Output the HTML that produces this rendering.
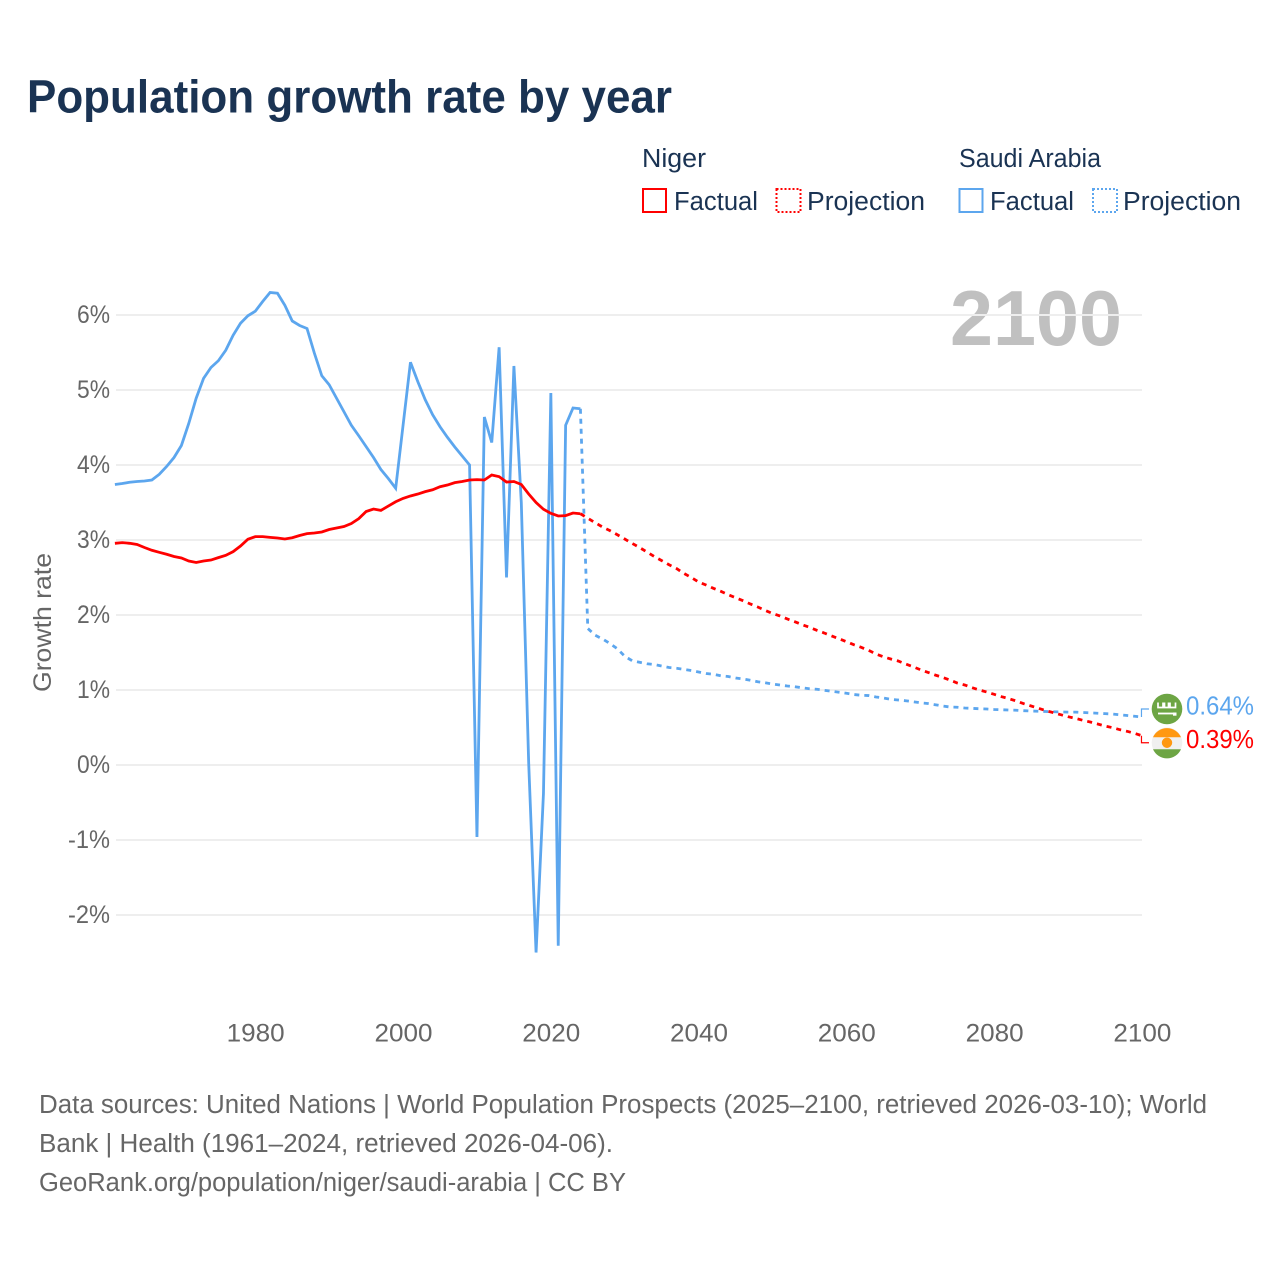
<!DOCTYPE html>
<html lang="en">
<head>
<meta charset="utf-8">
<title>Population growth rate by year</title>
<style>
html,body{margin:0;padding:0;background:#fff;}
svg{display:block;font-family:"Liberation Sans",sans-serif;}
</style>
</head>
<body>
<svg id="chart" xmlns="http://www.w3.org/2000/svg" width="1280" height="1280" viewBox="0 0 1280 1280">
  <rect width="1280" height="1280" fill="#ffffff"/>
  <text x="27" y="112.5" font-size="46" font-weight="bold" fill="#1a3353" textLength="645" lengthAdjust="spacingAndGlyphs">Population growth rate by year</text>

  <g font-size="25.5" fill="#1a3353">
    <text x="642" y="167" textLength="64" lengthAdjust="spacingAndGlyphs">Niger</text>
    <text x="959" y="167" textLength="142" lengthAdjust="spacingAndGlyphs">Saudi Arabia</text>
    <rect x="643" y="189" width="23" height="23" fill="none" stroke="#ff0000" stroke-width="2"/>
    <text x="674" y="210" textLength="84" lengthAdjust="spacingAndGlyphs">Factual</text>
    <rect x="776.5" y="189" width="24" height="23" fill="none" stroke="#ff0000" stroke-width="2" stroke-dasharray="2 2"/>
    <text x="807" y="210" textLength="118" lengthAdjust="spacingAndGlyphs">Projection</text>
    <rect x="959.5" y="189" width="23" height="23" fill="none" stroke="#5ca6ee" stroke-width="2"/>
    <text x="990" y="210" textLength="84" lengthAdjust="spacingAndGlyphs">Factual</text>
    <rect x="1093" y="189" width="24" height="23" fill="none" stroke="#5ca6ee" stroke-width="2" stroke-dasharray="2 2"/>
    <text x="1123" y="210" textLength="118" lengthAdjust="spacingAndGlyphs">Projection</text>
  </g>

  <text x="950" y="345" font-size="78" font-weight="bold" fill="#c0c0c0" textLength="172" lengthAdjust="spacingAndGlyphs">2100</text>

  <g id="grid"></g>
  <g id="ylabels" font-size="25" fill="#666666"></g>
  <g id="xlabels" font-size="25" fill="#666666"></g>
  <text transform="translate(51 692) rotate(-90)" font-size="25" fill="#666666" textLength="139" lengthAdjust="spacingAndGlyphs">Growth rate</text>
  <g id="series"></g>
  <g id="endmarks"></g>

  <g font-size="25.5" fill="#666666">
    <text x="39" y="1113" textLength="1168" lengthAdjust="spacingAndGlyphs">Data sources: United Nations | World Population Prospects (2025–2100, retrieved 2026-03-10); World</text>
    <text x="39" y="1152" textLength="574" lengthAdjust="spacingAndGlyphs">Bank | Health (1961–2024, retrieved 2026-04-06).</text>
    <text x="39" y="1191" textLength="587" lengthAdjust="spacingAndGlyphs">GeoRank.org/population/niger/saudi-arabia | CC BY</text>
  </g>
</svg>
<script>
const firstYear = 1961;
const lastFactualYear = 2024;
const yTickValues = [-2, -1, 0, 1, 2, 3, 4, 5, 6];
const xTickValues = [1980, 2000, 2020, 2040, 2060, 2080, 2100];

const saudiFactual = [3.74,3.753,3.77,3.78,3.787,3.80,3.875,3.98,4.10,4.26,4.555,4.89,5.155,5.30,5.39,5.53,5.73,5.89,5.99,6.05,
6.18,6.30,6.29,6.13,5.92,5.86,5.82,5.49,5.19,5.07,4.89,4.71,4.53,4.39,4.245,4.10,3.94,3.82,3.69,4.53,
5.37,5.11,4.87,4.67,4.51,4.37,4.24,4.12,4.00,-0.96,4.64,4.30,5.57,2.50,5.32,3.5,0.03,-2.50,-0.38,4.96,
-2.41,4.53,4.76,4.75];

const nigerFactual = [2.956,2.965,2.956,2.94,2.90,2.863,2.836,2.81,2.78,2.76,2.72,2.70,2.72,2.733,2.765,2.795,2.845,2.92,3.01,3.045,
3.045,3.035,3.027,3.013,3.03,3.06,3.085,3.093,3.107,3.14,3.16,3.18,3.22,3.285,3.38,3.413,3.395,3.453,3.51,3.555,
3.587,3.613,3.645,3.67,3.71,3.733,3.765,3.78,3.80,3.805,3.80,3.867,3.845,3.773,3.78,3.74,3.613,3.50,3.41,3.355,
3.32,3.325,3.36,3.35];

const saudiProjection = [1.82,1.73,1.68,1.62,1.55,1.45,1.39,1.37,1.35,1.34,1.32,1.30,1.29,1.275,1.26,1.24,1.22,1.21,1.19,1.18,
1.16,1.147,1.13,1.11,1.097,1.08,1.067,1.053,1.044,1.03,1.017,1.01,0.996,0.983,0.97,0.956,0.94,0.93,0.926,0.907,
0.893,0.875,0.867,0.857,0.844,0.83,0.82,0.804,0.787,0.773,0.77,0.76,0.755,0.75,0.747,0.74,0.737,0.733,0.73,0.724,
0.72,0.717,0.713,0.71,0.708,0.705,0.705,0.70,0.695,0.69,0.685,0.68,0.67,0.66,0.65,0.64];

const nigerProjection = [3.29,3.23,3.173,3.125,3.07,3.013,2.955,2.90,2.84,2.78,2.725,2.67,2.62,2.555,2.50,2.44,2.40,2.356,2.316,2.271,
2.231,2.191,2.147,2.107,2.062,2.02,1.987,1.947,1.911,1.871,1.836,1.796,1.76,1.72,1.684,1.644,1.604,1.569,1.529,1.48,
1.444,1.413,1.387,1.347,1.311,1.271,1.236,1.2,1.169,1.133,1.093,1.067,1.031,1.0,0.973,0.942,0.911,0.884,0.853,0.818,
0.787,0.756,0.724,0.698,0.671,0.644,0.622,0.596,0.573,0.547,0.52,0.498,0.471,0.449,0.422,0.39];

const NS = 'http://www.w3.org/2000/svg';
const xScale = function (year) { return 114.9 + (year - firstYear) * 7.389; };
const yScale = function (value) { return 765 - value * 75; };

function make(tag, attrs, parent) {
  const el = document.createElementNS(NS, tag);
  for (const k in attrs) el.setAttribute(k, attrs[k]);
  parent.appendChild(el);
  return el;
}

function linePath(values, startYear) {
  return values.map(function (v, i) {
    return (i ? 'L' : 'M') + xScale(startYear + i).toFixed(2) + ' ' + yScale(v).toFixed(2);
  }).join(' ');
}

const gridG = document.getElementById('grid');
const yG = document.getElementById('ylabels');
const xG = document.getElementById('xlabels');
const seriesG = document.getElementById('series');
const endG = document.getElementById('endmarks');

yTickValues.forEach(function (t) {
  const line = make('line', {x1: 116, x2: 1142, y1: yScale(t), y2: yScale(t), stroke: '#eeeeee', 'stroke-width': 2}, gridG);
  
  
  const label = make('text', {x: 110, y: yScale(t) + 8, 'text-anchor': 'end', textLength: t < 0 ? 42 : 33, lengthAdjust: 'spacingAndGlyphs'}, yG);
  
  
  label.textContent = t + '%';
});

xTickValues.forEach(function (t) {
  const label = make('text', {x: xScale(t) + 0.4, y: 1041.5, 'text-anchor': 'middle', textLength: 58, lengthAdjust: 'spacingAndGlyphs'}, xG);
  
  
  label.textContent = String(t);
});

function drawSeries(name, color, factual, projection, lineWidth) {
  const f = make('path', {d: linePath(factual, firstYear), fill: 'none', stroke: color, 'stroke-width': lineWidth}, seriesG);
  
  
  const joined = [factual[factual.length - 1]].concat(projection);
  const p = make('path', {d: linePath(joined, lastFactualYear), fill: 'none', stroke: color, 'stroke-width': lineWidth, 'stroke-dasharray': '5 5'}, seriesG);
  
  
}

drawSeries('saudi-arabia', '#5ca6ee', saudiFactual, saudiProjection, 2.8);
drawSeries('niger', '#ff0000', nigerFactual, nigerProjection, 2.8);

const endYear = lastFactualYear + saudiProjection.length;
const endX = xScale(endYear);
const saudiEnd = saudiProjection[saudiProjection.length - 1];
const nigerEnd = nigerProjection[nigerProjection.length - 1];
const saudiLabelY = yScale(saudiEnd) - 8;
const nigerLabelY = yScale(nigerEnd) + 7;

const saudiConn = make('path', {d: 'M' + (endX - 0.5) + ' ' + yScale(saudiEnd) + ' V' + saudiLabelY + ' H' + (endX + 7), fill: 'none', stroke: '#5ca6ee', 'stroke-width': 1.2}, endG);


const nigerConn = make('path', {d: 'M' + (endX - 0.5) + ' ' + yScale(nigerEnd) + ' V' + nigerLabelY + ' H' + (endX + 7), fill: 'none', stroke: '#ff0000', 'stroke-width': 1.2}, endG);



const cx = 1167;

const saudiFlag = make('g', {transform: 'translate(' + cx + ' ' + saudiLabelY + ')'}, endG);


make('circle', {cx: 0, cy: 0, r: 15.3, fill: '#6da544'}, saudiFlag);
make('path', {d: 'M-9 -6.5V-1.5H-4V-6.5M-2.5 -6.5V-1.5H1.5V-6.5M3 -6.5V-1.5H8.5V-6.5', fill: 'none', stroke: '#ffffff', 'stroke-width': 1.7}, saudiFlag);
make('path', {d: 'M-9 4.5H6', fill: 'none', stroke: '#ffffff', 'stroke-width': 1.8}, saudiFlag);
make('rect', {x: 6, y: 3.5, width: 3.5, height: 3.2, fill: '#ffffff'}, saudiFlag);

const nigerFlag = make('g', {transform: 'translate(' + cx + ' ' + nigerLabelY + ')'}, endG);


make('circle', {cx: 0, cy: 0, r: 15.3, fill: '#f0f0f0'}, nigerFlag);
make('path', {d: 'M-14 -5.5A15.3 15.3 0 0 1 14 -5.5Z', fill: '#ff9811'}, nigerFlag);
make('path', {d: 'M-14 6.5A15.3 15.3 0 0 0 14 6.5Z', fill: '#6da544'}, nigerFlag);
make('circle', {cx: 0, cy: 0, r: 5.2, fill: '#ff9811'}, nigerFlag);

const saudiValue = make('text', {x: 1186, y: saudiLabelY + 5.5, 'font-size': 25.5, fill: '#5ca6ee', textLength: 68, lengthAdjust: 'spacingAndGlyphs'}, endG);


saudiValue.textContent = saudiEnd.toFixed(2) + '%';

const nigerValue = make('text', {x: 1186, y: nigerLabelY + 5, 'font-size': 25.5, fill: '#ff0000', textLength: 68, lengthAdjust: 'spacingAndGlyphs'}, endG);


nigerValue.textContent = nigerEnd.toFixed(2) + '%';
</script>
</body>
</html>
